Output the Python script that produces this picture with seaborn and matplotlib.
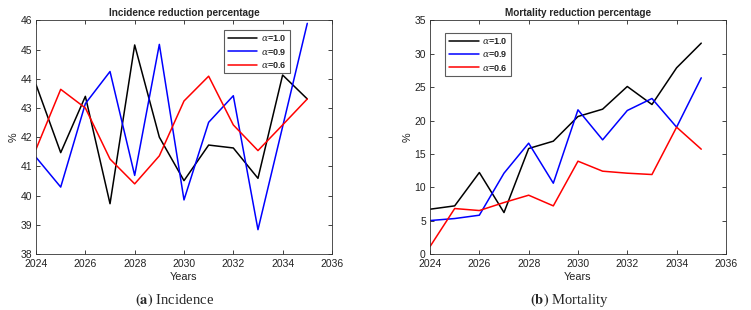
import numpy as np
import pandas as pd
import matplotlib
matplotlib.use('Agg')
import matplotlib.pyplot as plt
import seaborn as sns

years = list(range(2024, 2036))
series_labels = [r'$\alpha$=1.0', r'$\alpha$=0.9', r'$\alpha$=0.6']
colors = ['black', 'blue', 'red']

# incidence reduction (%)
inc_a10 = [43.8, 41.47, 43.4, 39.72, 45.16, 42.0, 40.51, 41.73, 41.63, 40.59, 44.13, 43.31]
inc_a09 = [41.31, 40.29, 43.15, 44.25, 40.69, 45.18, 39.85, 42.51, 43.42, 38.83, 42.36, 45.9]
inc_a06 = [41.59, 43.64, 43.0, 41.25, 40.4, 41.36, 43.24, 44.09, 42.42, 41.54, 42.42, 43.31]

# mortality reduction (%)
mort_a10 = [6.7, 7.2, 12.2, 6.2, 15.8, 16.9, 20.6, 21.7, 25.1, 22.4, 27.9, 31.6]
mort_a09 = [5.0, 5.3, 5.8, 12.1, 16.6, 10.6, 21.6, 17.1, 21.5, 23.3, 19.0, 26.4]
mort_a06 = [1.1, 6.8, 6.5, 7.7, 8.8, 7.2, 13.9, 12.4, 12.1, 11.9, 19.0, 15.7]


def to_long(cols):
    frames = []
    for lab, vals in zip(series_labels, cols):
        frames.append(pd.DataFrame({'Years': years, 'val': vals, 'alpha': lab}))
    return pd.concat(frames, ignore_index=True)


df_inc = to_long([inc_a10, inc_a09, inc_a06])
df_mort = to_long([mort_a10, mort_a09, mort_a06])

sns.set_style('ticks')
plt.rcParams['font.family'] = ['Liberation Sans', 'DejaVu Sans']
plt.rcParams['mathtext.fontset'] = 'dejavuserif'

fig = plt.figure(figsize=(7.51, 3.10), dpi=100)
ax1 = fig.add_axes([0.048, 0.181, 0.394, 0.753])
ax2 = fig.add_axes([0.5726, 0.181, 0.394, 0.753])


def style_axis(ax, df, title, ylim, yticks, leg_anchor):
    sns.lineplot(data=df, x='Years', y='val', hue='alpha', palette=colors,
                 linewidth=1.1, ax=ax, legend=True)
    ax.set_xlim(2024, 2036)
    ax.set_xticks(range(2024, 2037, 2))
    ax.set_ylim(*ylim)
    ax.set_yticks(yticks)
    ax.set_title(title, fontsize=7.2, fontweight='bold', pad=3)
    ax.set_xlabel('Years', fontsize=7.8, labelpad=2, color='#222222')
    ax.set_ylabel('%', fontsize=7.8, labelpad=1, color='#222222')
    ax.tick_params(direction='in', top=True, right=True, labelsize=7.5,
                   length=3, width=0.6, colors='#222222')
    ax.tick_params(axis='x', pad=4)
    ax.tick_params(axis='y', pad=3)
    for sp in ax.spines.values():
        sp.set_visible(True)
        sp.set_linewidth(0.6)
        sp.set_color('#333333')
    leg = ax.legend(loc='upper left', bbox_to_anchor=leg_anchor, fontsize=6.5,
                    frameon=True, fancybox=False, edgecolor='#333333',
                    handlelength=3.3, borderpad=0.4, labelspacing=0.35,
                    handletextpad=0.4, borderaxespad=0)
    leg.get_frame().set_linewidth(0.8)
    for t in leg.get_texts():
        t.set_fontweight('bold')


style_axis(ax1, df_inc, 'Incidence reduction percentage', (38, 46),
           range(38, 47), (0.635, 0.96))
style_axis(ax2, df_mort, 'Mortality reduction percentage', (0, 35),
           range(0, 36, 5), (0.051, 0.948))

fig.text(0.233, 0.02, r'$\mathbf{(a)}$ Incidence', ha='center', fontsize=10.5,
         family='Liberation Serif', math_fontfamily='stix')
fig.text(0.758, 0.02, r'$\mathbf{(b)}$ Mortality', ha='center', fontsize=10.5,
         family='Liberation Serif', math_fontfamily='stix')

fig.savefig('out.png', dpi=100)
